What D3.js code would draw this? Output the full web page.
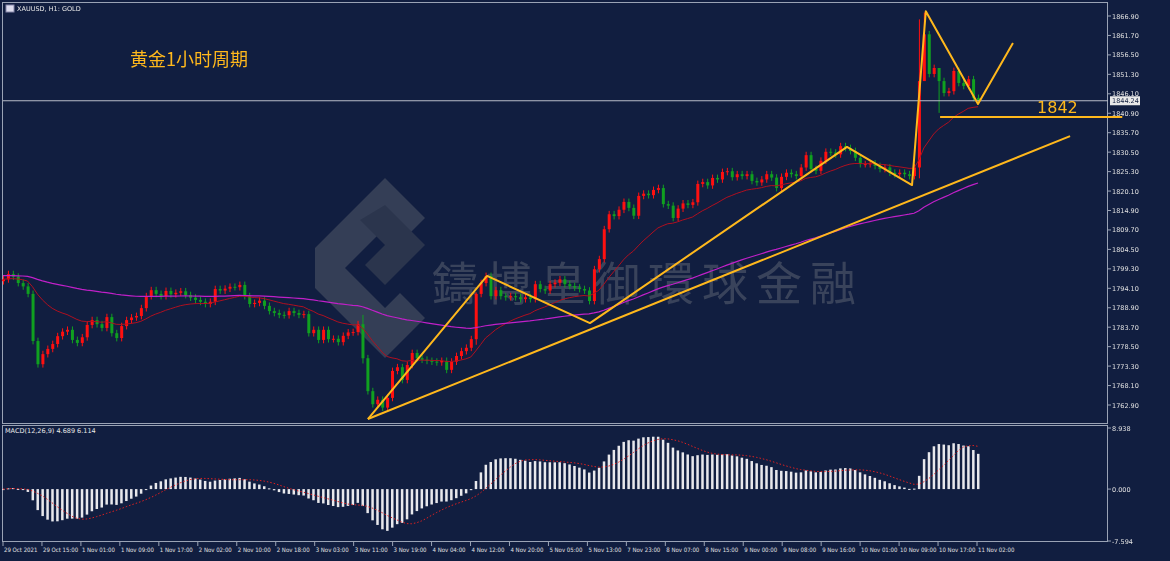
<!DOCTYPE html>
<html><head><meta charset="utf-8">
<script src="https://cdn.jsdelivr.net/npm/d3@7"></script>
<style>body{margin:0;background:#101e3f;}svg{display:block;}text{font-family:"DejaVu Sans",sans-serif;}</style>
</head><body><svg id="chart" width="1170" height="561"></svg>
<script>
// hourly closes, XAUUSD H1 (open = previous close)
var closes = [1796.5,1797.9,1797.2,1795.5,1794.6,1792.6,1780,1773.8,1776.5,1777.9,
 1779.2,1781.3,1782.5,1783,1780.3,1779.5,1781,1784.3,1785.6,1784.5,
 1783.5,1786.4,1782.1,1780.8,1784,1785.6,1786.3,1786.7,1788.8,1792,
 1793.6,1792.6,1792,1793.4,1792.5,1792.9,1793.3,1792.3,1791.6,1791,
 1790.5,1789.9,1790.5,1793.9,1793.5,1794,1794.5,1794.4,1795,1792,
 1789.9,1790.2,1790.8,1789.4,1788,1787.5,1787,1786.9,1788,1787.5,
 1787,1787.2,1782.1,1783,1780.3,1783,1780.5,1780.6,1779.7,1781.4,
 1782.3,1782.4,1784.5,1775.4,1766.6,1763.1,1764.3,1762.2,1764.8,1772,
 1773,1769.6,1773.6,1776.8,1775.4,1775,1774.7,1774.5,1774.3,1774.7,
 1772.3,1774.5,1776,1777.3,1778.2,1780.5,1792.6,1795.5,1797.4,1792,
 1793.6,1792,1791.7,1792,1791.7,1791.2,1791.7,1791.2,1795.2,1793.9,
 1793.5,1795.2,1795.6,1796.5,1795.2,1794.7,1794.3,1793.9,1793.5,1790.7,
 1799.2,1801.9,1809.9,1813.9,1813.4,1815.1,1817.2,1815.6,1813.5,1818.8,
 1819.4,1819,1820.4,1820.9,1816.6,1816.2,1812.9,1815.4,1816.8,1816.4,
 1817.1,1822,1822.5,1821.6,1823.6,1823.2,1825.2,1825.4,1823.8,1824.6,
 1824.1,1824.6,1822.8,1822.4,1823.2,1824.6,1823.7,1820.9,1823.9,1825,
 1824.6,1824.1,1826.4,1829.7,1826,1825.5,1828.2,1830.6,1830.4,1829.9,
 1832.1,1831.6,1830.8,1829,1827.3,1827.3,1827.5,1826.8,1826,1826.4,
 1825,1824.6,1825,1824.6,1824.1,1826.4,1849.5,1862,1851.4,1853,
 1849.5,1846.3,1846.8,1852.2,1849,1848.2,1850,1845,1844.24];
var firstOpen = 1796;
var longWicks = {186:[1866, 1823.5], 187:[1867.8, 1850], 190:[1851, 1841], 73:[1787,1774], 96:[1793,1779]};
var lastPrice = 1844.24;

var priceTicks = d3.range(0, 21).map(function(k){ return 1866.9 - k*5.2; });
var macdTicks = [8.938, 0, -7.594];
var macdLabel = "MACD(12,26,9) 4.689 6.114";
var timeLabels = ["29 Oct 2021","29 Oct 15:00","1 Nov 01:00","1 Nov 09:00","1 Nov 17:00","2 Nov 02:00",
 "2 Nov 10:00","2 Nov 18:00","3 Nov 03:00","3 Nov 11:00","3 Nov 19:00","4 Nov 04:00","4 Nov 12:00",
 "4 Nov 20:00","5 Nov 05:00","5 Nov 13:00","7 Nov 23:00","8 Nov 07:00","8 Nov 15:00","9 Nov 00:00",
 "9 Nov 08:00","9 Nov 16:00","10 Nov 01:00","10 Nov 09:00","10 Nov 17:00","11 Nov 02:00"];

// drawn trend lines [bar index, price]
var zigzag = [[74.1,1759.15],[98.3,1797.4],[119.2,1784.8],[171.4,1831.9],[184.6,1821.7],[187.4,1868.2],[198.0,1843.4],[205.1,1859.7]];
var supportLine = [[74.1,1759.15],[216.7,1834.8]];
var levelLine = [[190.3,1839.9],[227.3,1839.9]];
var levelLabel = "1842";

var svg = d3.select("#chart");
var bg = "#111e40", gridc = "#9aa3b5", red = "#ff1010", green = "#10a020", gold = "#ffb81c";

var x = d3.scaleLinear().domain([0, 198]).range([3, 978]);
var y = d3.scaleLinear().domain([1762.9, 1866.9]).range([405, 16]);
var ym = d3.scaleLinear().domain([-7.594, 8.938]).range([541, 428]);
var xt = d3.scaleLinear().domain([0, timeLabels.length-1]).range([3, 977]);

svg.append("rect").attr("width",1170).attr("height",561).attr("fill",bg);
svg.append("rect").attr("x",2.5).attr("y",2.5).attr("width",1105).attr("height",421).attr("fill","none").attr("stroke",gridc);
svg.append("rect").attr("x",2.5).attr("y",425.5).attr("width",1105).attr("height",116).attr("fill","none").attr("stroke",gridc);

// watermark
var wm = svg.append("g").attr("opacity",0.3);
wm.append("path").attr("d","M385,213 L425,253 L400,278 L385,263 L345,303 L385,343 L400,328 L425,353 L385,393 L315,323 L315,283 Z")
  .attr("fill","#8a8a8a").attr("transform","translate(0,-35)");
wm.append("path").attr("d","M385,240 L425,280 L385,320 L365,300 L385,280 L360,255 Z")
  .attr("fill","#6d6d6d").attr("transform","translate(0,-35)");
wm.append("text").attr("x",432).attr("y",300).attr("font-size",46).attr("fill","#9a9a9a")
  .attr("letter-spacing",8).style("font-family","'Noto Sans CJK TC'").text("鑄博皇御環球金融");

// candles
var candles = closes.map(function(c,i){
  var o = i === 0 ? firstOpen : closes[i-1];
  var w = longWicks[i];
  return {i:i, o:o, c:c, h: w ? w[0] : Math.max(o,c)+0.9, l: w ? w[1] : Math.min(o,c)-0.9};
});
var cg = svg.append("g");
cg.selectAll("line").data(candles).enter().append("line")
  .attr("x1",function(d){return x(d.i)+0.5;}).attr("x2",function(d){return x(d.i)+0.5;})
  .attr("y1",function(d){return y(d.h);}).attr("y2",function(d){return y(d.l);})
  .attr("stroke",function(d){return d.c>=d.o?red:green;});
cg.selectAll("rect").data(candles).enter().append("rect")
  .attr("x",function(d){return x(d.i)-1;}).attr("width",3)
  .attr("y",function(d){return y(Math.max(d.o,d.c));})
  .attr("height",function(d){return Math.max(1, Math.abs(y(d.o)-y(d.c)));})
  .attr("fill",function(d){return d.c>=d.o?red:green;});

// moving averages
function ema(arr,n){ var k=2/(n+1), out=[], p=arr[0]; arr.forEach(function(v){ p = v*k + p*(1-k); out.push(p); }); return out; }
var line = d3.line().x(function(d,i){return x(i);}).y(function(d){return y(d);});
svg.append("path").attr("d",line(ema(closes,20))).attr("fill","none").attr("stroke","#b01020").attr("stroke-width",1);
svg.append("path").attr("d",line(ema([1797.5].concat(closes),100).slice(1))).attr("fill","none").attr("stroke","#c020c8").attr("stroke-width",1.2);

// last price line
svg.append("line").attr("x1",3).attr("x2",1108).attr("y1",y(lastPrice)).attr("y2",y(lastPrice)).attr("stroke","#b8bcc8");

// trend lines
var tl = d3.line().x(function(d){return x(d[0]);}).y(function(d){return y(d[1]);});
[zigzag, supportLine, levelLine].forEach(function(p){
  svg.append("path").attr("d",tl(p)).attr("fill","none").attr("stroke",gold).attr("stroke-width",2).attr("stroke-linejoin","round");
});
svg.append("text").attr("x",x(210)).attr("y",y(1839.9)-4).attr("fill",gold).attr("font-size",16).text(levelLabel);

// titles
svg.append("rect").attr("x",6).attr("y",5).attr("width",8).attr("height",7).attr("fill","#dde").attr("stroke","#88a");
svg.append("text").attr("x",17).attr("y",11).attr("fill","#e8e8e8").attr("font-size",6.5).text("XAUUSD, H1:  GOLD");
svg.append("text").attr("x",130).attr("y",66).attr("fill",gold).attr("font-size",18)
  .style("font-family","'Noto Sans CJK SC'").text("黄金1小时周期");

// price axis
var pa = svg.append("g").attr("transform","translate(1108,0)");
priceTicks.forEach(function(p){
  pa.append("line").attr("x1",0).attr("x2",3).attr("y1",y(p)).attr("y2",y(p)).attr("stroke",gridc);
  pa.append("text").attr("x",4).attr("y",y(p)+2.5).attr("fill","#e0e0e0").attr("font-size",6.5).text(p.toFixed(2));
});
pa.append("rect").attr("x",2).attr("y",y(lastPrice)-4.5).attr("width",30).attr("height",9).attr("fill","#e8e8e8");
pa.append("text").attr("x",4).attr("y",y(lastPrice)+2.5).attr("fill","#101e3f").attr("font-size",6.5).text(lastPrice.toFixed(2));

// MACD
var macd = d3.zip(ema(closes,12), ema(closes,26)).map(function(p){return p[0]-p[1];});
var signal = macd.map(function(v,i){ var s = macd.slice(Math.max(0,i-8), i+1); return d3.mean(s); });
svg.append("g").selectAll("rect").data(macd).enter().append("rect")
  .attr("x",function(d,i){return x(i)-1;}).attr("width",2.5)
  .attr("y",function(d){return Math.min(ym(d),ym(0));})
  .attr("height",function(d){return Math.max(1,Math.abs(ym(d)-ym(0)));})
  .attr("fill","#e8e8ec");
svg.append("path").attr("d",d3.line().x(function(d,i){return x(i);}).y(function(d){return ym(d);})(signal))
  .attr("fill","none").attr("stroke","#e02020").attr("stroke-width",1).attr("stroke-dasharray","1.5,2");
svg.append("text").attr("x",5).attr("y",433).attr("fill","#e8e8e8").attr("font-size",6.5).text(macdLabel);
macdTicks.forEach(function(v){
  pa.append("line").attr("x1",0).attr("x2",3).attr("y1",ym(v)).attr("y2",ym(v)).attr("stroke",gridc);
  pa.append("text").attr("x",4).attr("y",ym(v)+2.5).attr("fill","#e0e0e0").attr("font-size",6.5).text(v.toFixed(3));
});

// time axis
var ta = svg.append("g");
timeLabels.forEach(function(t,k){
  var xx = xt(k);
  ta.append("line").attr("x1",xx).attr("x2",xx).attr("y1",541).attr("y2",546).attr("stroke",gridc);
  ta.append("text").attr("x",xx+1).attr("y",552).attr("fill","#e0e0e0").attr("font-size",6)
    .style("font-family","'DejaVu Sans Condensed','Liberation Sans Narrow',sans-serif").text(t);
});
</script></body></html>
